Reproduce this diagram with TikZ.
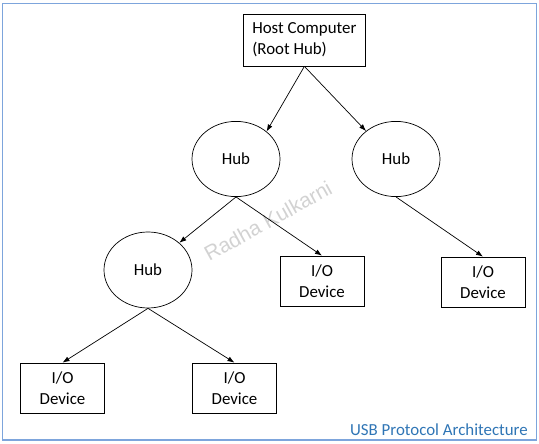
\documentclass[tikz,border=0pt]{standalone}
\usepackage{fontspec}
\setmainfont{Carlito}
\newfontfamily\markfont{Liberation Sans}
\usepackage{xcolor}
\usepackage{tikz}
\usetikzlibrary{arrows.meta, positioning, shapes.geometric}

\definecolor{framecol}{RGB}{125,165,220}
\definecolor{titlecol}{RGB}{47,117,181}

\tikzset{
  boxnode/.style={draw, line width=0.5pt, minimum width=2.1cm, minimum height=1.25cm,
    align=center, inner sep=2pt},
  hubnode/.style={draw, ellipse, line width=0.5pt, minimum width=2.2cm, minimum height=1.88cm,
    inner sep=0pt},
  link/.style={line width=0.5pt, -{Latex[length=5pt,width=3.6pt]}},
}

\begin{document}
\begin{tikzpicture}[font=\fontsize{12}{15}\selectfont]
  \useasboundingbox (0,0) rectangle (13.475,11.075);
  % Frame
  \draw[framecol, line width=1.2pt] (0.06,0.07) rectangle (13.41,10.99);
  % Watermark
  \node[font=\markfont\fontsize{14.8}{16}\selectfont, text=gray!35, rotate=29] (mark) at (6.7,5.55)
    {Radha Kulkarni};
  % Host
  \node[boxnode, minimum width=3.03cm, minimum height=1.3cm, align=left] (host) at (7.61,10.075)
    {Host Computer\\(Root Hub)};
  % Hubs
  \node[hubnode] (hubL) at (5.9,7.1) {Hub};
  \node[hubnode] (hubR) at (9.9,7.1) {Hub};
  \node[hubnode, minimum height=1.9cm] (hubB) at (3.7,4.325) {Hub};
  % I/O devices
  \node[boxnode] (ioA) at (8.05,4.05)    {I/O\\Device};
  \node[boxnode] (ioB) at (12.075,4.025) {I/O\\Device};
  \node[boxnode] (ioC) at (1.5625,1.375) {I/O\\Device};
  \node[boxnode] (ioD) at (5.8625,1.375) {I/O\\Device};
  % Links
  \draw[link] (host.south) -- (hubL.42);
  \draw[link] (host.south) -- (hubR.137);
  \draw[link] (hubL.south) -- (hubB.41);
  \draw[link] (hubL.south) -- (ioA.north);
  \draw[link] (hubR.south) -- (ioB.north);
  \draw[link] (hubB.south) -- (ioC.north);
  \draw[link] (hubB.south) -- (ioD.north);
  % Caption
  \node[anchor=east, text=titlecol, inner sep=0pt] (title) at (13.2,0.33)
    {USB Protocol Architecture};
\end{tikzpicture}
\end{document}
